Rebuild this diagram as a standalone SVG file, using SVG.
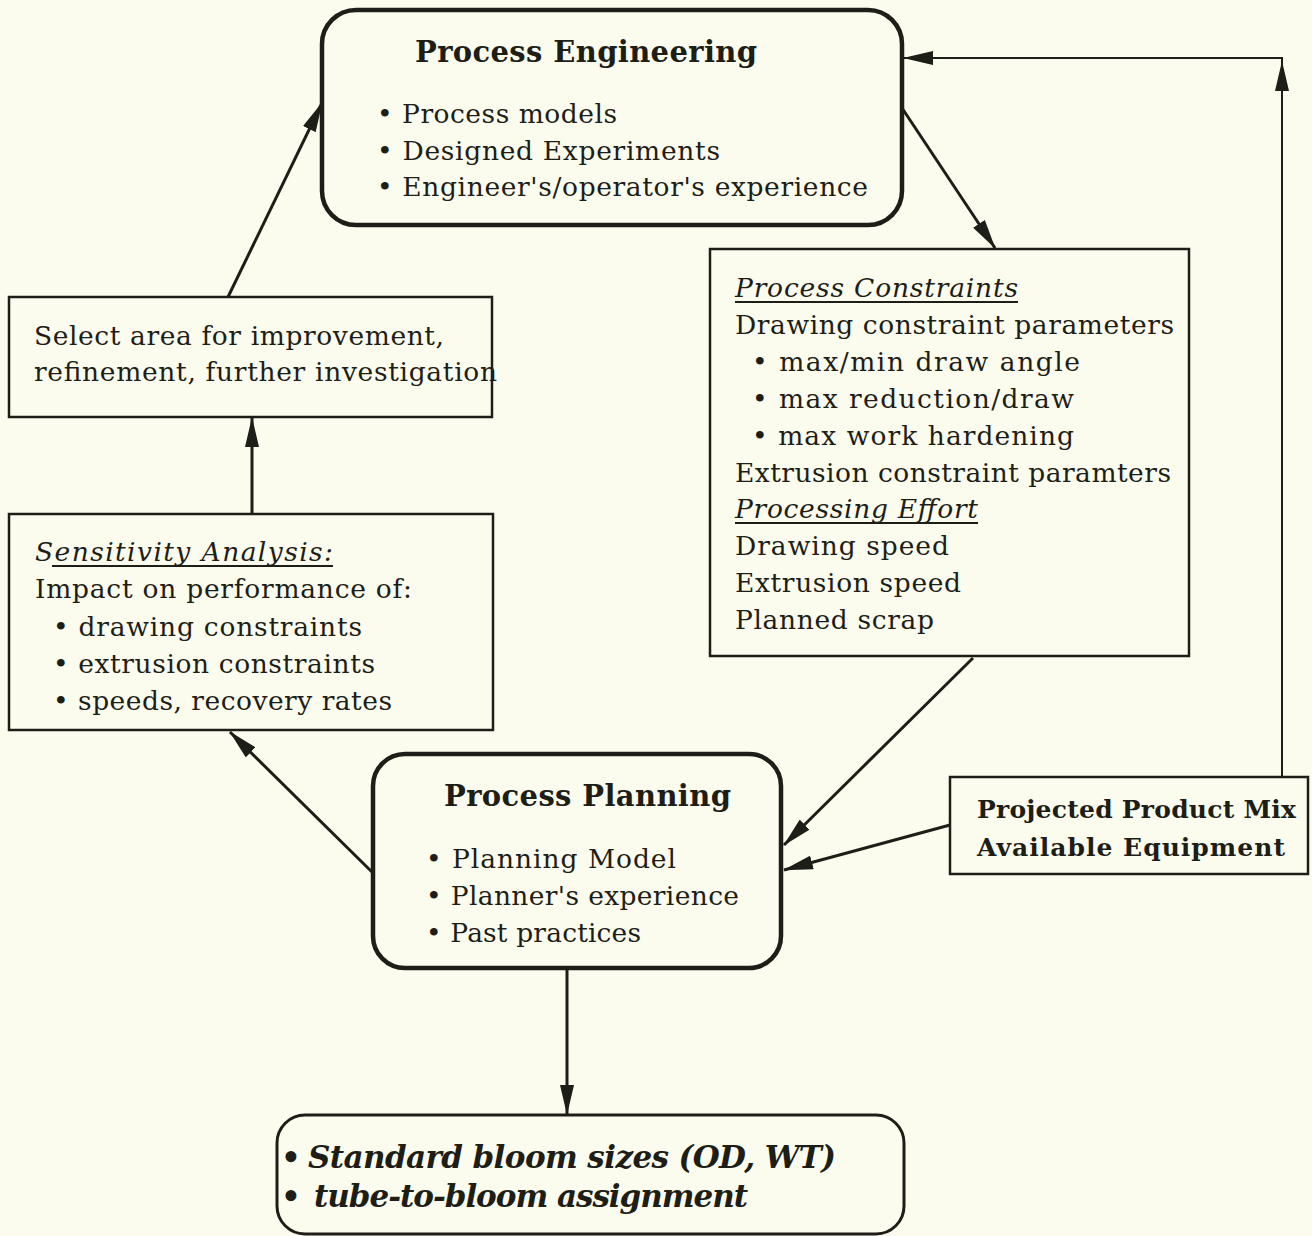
<svg xmlns="http://www.w3.org/2000/svg" width="1312" height="1236" viewBox="0 0 1312 1236">
<style>
text{font-family:"DejaVu Serif","Liberation Serif",serif;fill:#1e1e18;}
.b{font-size:26.5px;}
.t{font-size:29px;font-weight:bold;}
.i{font-size:26.5px;font-style:italic;}
.pm{font-size:25px;font-weight:bold;}
.bi{font-size:31px;font-style:italic;font-weight:bold;}
.rb{fill:none;stroke:#1e1e18;stroke-width:4.5;}
.sb{fill:none;stroke:#1e1e18;stroke-width:2.5;}
.c{fill:none;stroke:#1e1e18;stroke-width:3;}
.ct{fill:none;stroke:#1e1e18;stroke-width:2;}
.u{stroke:#1e1e18;stroke-width:2;}
</style>
<defs>
<marker id="ah" viewBox="0 0 30 14" markerUnits="userSpaceOnUse" markerWidth="30" markerHeight="14" refX="29" refY="7" orient="auto">
<path d="M0,0 L30,7 L0,14 z" fill="#1e1e18"/>
</marker>
</defs>
<rect width="1312" height="1236" fill="#fcfcee"/>

<g id="connectors">
<line class="c" x1="228" y1="297" x2="322" y2="103" marker-end="url(#ah)"/>
<line class="c" x1="902" y1="108" x2="995" y2="248" marker-end="url(#ah)"/>
<line class="c" x1="973" y1="658" x2="784" y2="845" marker-end="url(#ah)"/>
<line class="c" x1="950" y1="825" x2="784" y2="870" marker-end="url(#ah)"/>
<line class="c" x1="372" y1="872" x2="230" y2="732" marker-end="url(#ah)"/>
<line class="c" x1="252" y1="514" x2="252" y2="418" marker-end="url(#ah)"/>
<line class="c" x1="567" y1="970" x2="567" y2="1114" marker-end="url(#ah)"/>
<line class="ct" x1="1282" y1="776" x2="1282" y2="62" marker-end="url(#ah)"/>
<polyline class="ct" points="1282,62 1282,58 904,58" marker-end="url(#ah)"/>
</g>

<g id="process-engineering">
<rect class="rb" x="322" y="10" width="580" height="215" rx="34"/>
<text class="t" x="415" y="62" textLength="342">Process Engineering</text>
<text class="b" x="377" y="123" textLength="240">• Process models</text>
<text class="b" x="377" y="160" textLength="343">• Designed Experiments</text>
<text class="b" x="377" y="196" textLength="491">• Engineer's/operator's experience</text>
</g>

<g id="process-constraints">
<rect class="sb" x="710" y="249" width="479" height="407"/>
<text class="i" x="735" y="297" textLength="283">Process Constraints</text>
<line class="u" x1="735" y1="302" x2="1018" y2="302"/>
<text class="b" x="735" y="334" textLength="439">Drawing constraint parameters</text>
<text class="b" x="752" y="371" textLength="328">• max/min draw angle</text>
<text class="b" x="752" y="408" textLength="322">• max reduction/draw</text>
<text class="b" x="752" y="445" textLength="322">• max work hardening</text>
<text class="b" x="735" y="482" textLength="436">Extrusion constraint paramters</text>
<text class="i" x="735" y="518" textLength="243">Processing Effort</text>
<line class="u" x1="735" y1="523" x2="978" y2="523"/>
<text class="b" x="735" y="555" textLength="214">Drawing speed</text>
<text class="b" x="735" y="592" textLength="226">Extrusion speed</text>
<text class="b" x="735" y="629" textLength="199">Planned scrap</text>
</g>

<g id="select-area">
<rect class="sb" x="9" y="297" width="483" height="120"/>
<text class="b" x="34" y="345" textLength="410">Select area for improvement,</text>
<text class="b" x="34" y="381" textLength="463">refinement, further investigation</text>
</g>

<g id="sensitivity-analysis">
<rect class="sb" x="9" y="514" width="484" height="216"/>
<text class="i" x="35" y="561" textLength="298">Sensitivity Analysis:</text>
<line class="u" x1="52" y1="566" x2="333" y2="566"/>
<text class="b" x="35" y="598" textLength="377">Impact on performance of:</text>
<text class="b" x="53" y="636" textLength="309">• drawing constraints</text>
<text class="b" x="53" y="673" textLength="322">• extrusion constraints</text>
<text class="b" x="53" y="710" textLength="339">• speeds, recovery rates</text>
</g>

<g id="process-planning">
<rect class="rb" x="373" y="754" width="408" height="214" rx="32"/>
<text class="t" x="444" y="806" textLength="287">Process Planning</text>
<text class="b" x="426" y="868" textLength="250">• Planning Model</text>
<text class="b" x="426" y="905" textLength="313">• Planner's experience</text>
<text class="b" x="426" y="942" textLength="215">• Past practices</text>
</g>

<g id="product-mix">
<rect class="sb" x="950" y="777" width="358" height="97"/>
<text class="pm" x="977" y="818" textLength="319">Projected Product Mix</text>
<text class="pm" x="977" y="856" textLength="308">Available Equipment</text>
</g>

<g id="bloom-output">
<rect class="c" x="277" y="1115" width="627" height="119" rx="28"/>
<text class="bi" x="281" y="1168">•</text>
<text class="bi" x="308" y="1168" textLength="528">Standard bloom sizes (OD, WT)</text>
<text class="bi" x="281" y="1207">•</text>
<text class="bi" x="314" y="1207" textLength="434">tube-to-bloom assignment</text>
</g>
</svg>
